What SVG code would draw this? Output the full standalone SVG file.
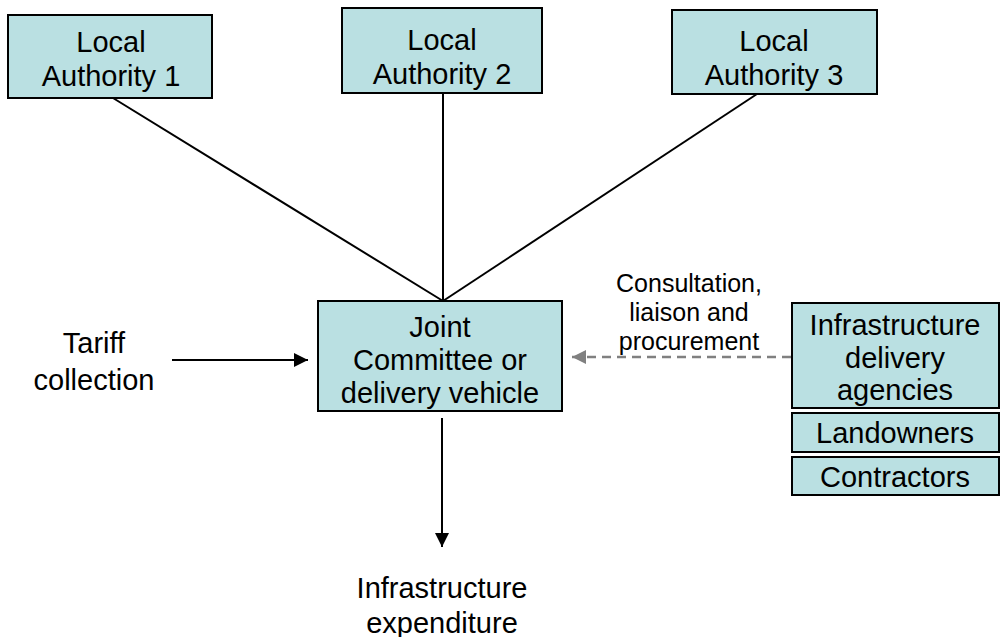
<svg xmlns="http://www.w3.org/2000/svg" width="1007" height="637" viewBox="0 0 1007 637">
<defs>
<style>
.box{fill:#bae0e2;stroke:#000;stroke-width:2}
.t{font-family:"Liberation Sans",Arial,sans-serif;font-size:29px;fill:#000;text-anchor:middle}
.s{font-family:"Liberation Sans",Arial,sans-serif;font-size:25px;fill:#000;text-anchor:middle}
.ln{stroke:#000;stroke-width:2;fill:none}
</style>
<marker id="ah" markerWidth="16" markerHeight="16" refX="14" refY="7" orient="auto" markerUnits="userSpaceOnUse"><path d="M0,0 L14,7 L0,14 Z" fill="#000"/></marker>
<marker id="ahg" markerWidth="16" markerHeight="16" refX="14" refY="7" orient="auto" markerUnits="userSpaceOnUse"><path d="M0,0 L14,7 L0,14 Z" fill="#808080"/></marker>
</defs>
<rect width="1007" height="637" fill="#fff"/>
<g id="connectors">
<line class="ln" x1="113" y1="98" x2="443" y2="301"/>
<line class="ln" x1="443" y1="93" x2="443" y2="301"/>
<line class="ln" x1="757" y1="94" x2="443" y2="301"/>
<line class="ln" x1="172" y1="360" x2="308" y2="360" marker-end="url(#ah)"/>
<line x1="791" y1="357" x2="572" y2="357" stroke="#808080" stroke-width="2.5" stroke-dasharray="9,6" marker-end="url(#ahg)"/>
<line class="ln" x1="442" y1="418" x2="442" y2="547" marker-end="url(#ah)"/>
</g>
<g id="la1"><rect class="box" x="8" y="15" width="204" height="83"/><text class="t" x="111" y="52">Local</text><text class="t" x="111" y="86">Authority 1</text></g>
<g id="la2"><rect class="box" x="342" y="8" width="200" height="85"/><text class="t" x="442" y="50">Local</text><text class="t" x="442" y="84">Authority 2</text></g>
<g id="la3"><rect class="box" x="672" y="10" width="205" height="84"/><text class="t" x="774" y="51">Local</text><text class="t" x="774" y="85">Authority 3</text></g>
<g id="joint"><rect class="box" x="318" y="301" width="244" height="110"/><text class="t" x="440" y="337">Joint</text><text class="t" x="440" y="370">Committee or</text><text class="t" x="440" y="403">delivery vehicle</text></g>
<g id="ida"><rect class="box" x="792" y="303" width="207" height="105"/><text class="t" x="895" y="335">Infrastructure</text><text class="t" x="895" y="368">delivery</text><text class="t" x="895" y="400">agencies</text></g>
<g id="landowners"><rect class="box" x="792" y="413" width="207" height="39"/><text class="t" x="895" y="443">Landowners</text></g>
<g id="contractors"><rect class="box" x="792" y="457" width="207" height="38"/><text class="t" x="895" y="487">Contractors</text></g>
<g id="tariff"><text class="t" x="94" y="353">Tariff</text><text class="t" x="94" y="390">collection</text></g>
<g id="expenditure"><text class="t" x="442" y="598">Infrastructure</text><text class="t" x="442" y="633">expenditure</text></g>
<g id="consult"><text class="s" x="689" y="292">Consultation,</text><text class="s" x="689" y="321">liaison and</text><text class="s" x="689" y="350">procurement</text></g>
</svg>
